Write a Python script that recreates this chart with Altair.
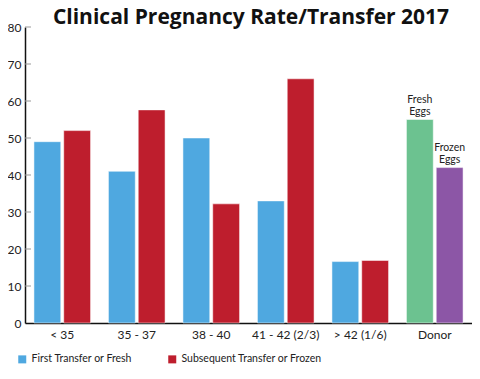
import altair as alt
import pandas as pd

groups = ["< 35", "35 - 37", "38 - 40", "41 - 42 (2/3)", "> 42 (1/6)", "Donor"]
first_vals = [49, 41, 50, 33, 16.6, 55]
second_vals = [52, 57.6, 32.2, 66, 16.9, 42]
first_names = ["First Transfer or Fresh"] * 5 + ["Fresh Eggs"]
second_names = ["Subsequent Transfer or Frozen"] * 5 + ["Frozen Eggs"]
series_domain = ["First Transfer or Fresh", "Subsequent Transfer or Frozen", "Fresh Eggs", "Frozen Eggs"]
series_colors = ["#4FA8E0", "#BE1E2D", "#6CC290", "#8C56A6"]
donor_line1 = ["Fresh", "Frozen"]
donor_line2 = ["Eggs", "Eggs"]
y_ticks = [10, 20, 30, 40, 50, 60, 70, 80]
y_labels = [0, 10, 20, 30, 40, 50, 60, 70, 80]
title_text = "Clinical Pregnancy Rate/Transfer 2017"

rows = []
for g, v1, v2, n1, n2 in zip(groups, first_vals, second_vals, first_names, second_names):
    rows.append({"group": g, "pos": 0, "value": v1, "series": n1, "l1": "", "l2": ""})
    rows.append({"group": g, "pos": 1, "value": v2, "series": n2, "l1": "", "l2": ""})
rows[-2]["l1"], rows[-2]["l2"] = donor_line1[0], donor_line2[0]
rows[-1]["l1"], rows[-1]["l2"] = donor_line1[1], donor_line2[1]
df = pd.DataFrame(rows)

FONT = "Lato"
W, H = 447, 296

x = alt.X("group:N", sort=groups, title=None,
          scale=alt.Scale(paddingInner=0.24, paddingOuter=0.12),
          axis=alt.Axis(labelAngle=0, labelFontSize=12, labelColor="#222", labelFont=FONT,
                        tickSize=0, labelPadding=6, domainColor="#111", domainWidth=1.5))
xo = alt.XOffset("pos:O", scale=alt.Scale(paddingInner=0.1))
yscale = alt.Scale(domain=[0, 80], nice=False)
yaxis = alt.Axis(values=y_labels, grid=False, tickSize=0,
                 labelPadding=4, labelFontSize=12, labelColor="#222", labelFont=FONT,
                 labelOverlap=False, domainColor="#111", domainWidth=1.5)

bars = alt.Chart(df).mark_bar(stroke="white", strokeWidth=0.5).encode(
    x=x, xOffset=xo, y=alt.Y("value:Q", title=None, scale=yscale, axis=yaxis),
    color=alt.Color("series:N",
                    scale=alt.Scale(domain=series_domain, range=series_colors),
                    legend=alt.Legend(title=None, orient="none", direction="horizontal",
                                      values=series_domain[:2], legendX=-8, legendY=327,
                                      symbolType="square", symbolSize=64, symbolStrokeWidth=0,
                                      labelFontSize=10.5, labelFont=FONT, labelColor="#222",
                                      columnPadding=34, labelLimit=300)),
)

lab_base = alt.Chart(df).transform_filter("datum.l1 != ''")
lab1 = lab_base.mark_text(baseline="bottom", dy=-15, fontSize=10.5, font=FONT, color="#222").encode(
    x=alt.X("group:N", sort=groups), xOffset=xo,
    y=alt.Y("value:Q", title=None, scale=yscale, axis=yaxis), text="l1:N")
lab2 = lab_base.mark_text(baseline="bottom", dy=-3, fontSize=10.5, font=FONT, color="#222").encode(
    x=alt.X("group:N", sort=groups), xOffset=xo,
    y=alt.Y("value:Q", title=None, scale=yscale, axis=yaxis), text="l2:N")

tick_df = pd.DataFrame({"t": y_ticks})
ticks = alt.Chart(tick_df).mark_rule(color="#999", strokeWidth=1).encode(
    y=alt.Y("t:Q", title=None, scale=yscale, axis=yaxis),
    x=alt.value(0), x2=alt.value(6))

title_df = pd.DataFrame({"title": [title_text]})
title = alt.Chart(title_df).mark_text(
    fontSize=21, fontWeight="bold", font="Open Sans", color="#111", baseline="alphabetic"
).encode(text="title:N", x=alt.value(226), y=alt.value(-3))

chart = alt.layer(bars, lab1, lab2, ticks, title).properties(
    width=W, height=H,
    autosize=alt.AutoSizeParams(type="none"),
    padding={"left": 17, "top": 19, "right": 0, "bottom": 48}
).configure_view(stroke=None).configure_axis(labelFont=FONT)

chart.save("out.html", embed_options={"renderer": "svg", "actions": False})
